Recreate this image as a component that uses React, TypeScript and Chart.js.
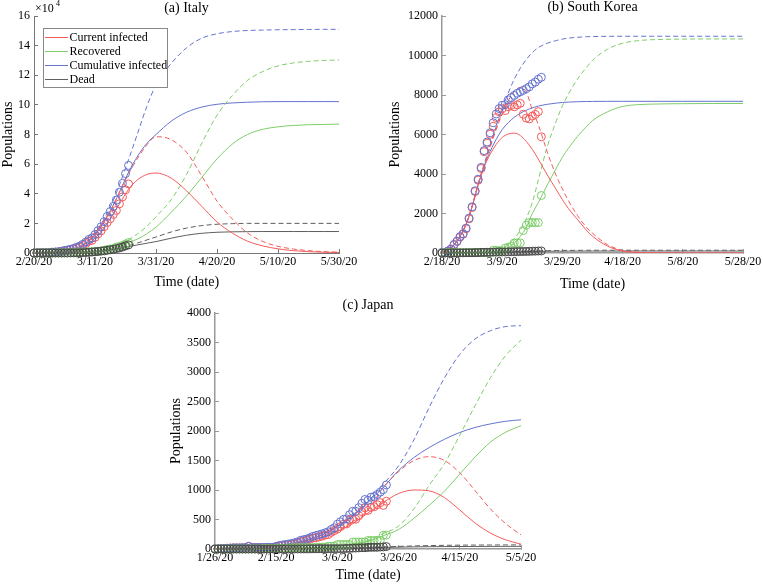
import { useEffect, useRef } from 'react';
import { Chart, registerables } from 'chart.js';

Chart.register(...registerables);

const FONT = '"Liberation Serif", "Times New Roman", serif';
const RED = 'rgb(245,90,90)';
const GREEN = 'rgb(125,205,105)';
const BLUE = 'rgb(100,115,205)';
const GRAY = 'rgb(95,95,95)';
const DOTGRAY = 'rgb(70,70,70)';

// ---------- (a) Italy : day 0 = 2/20/20 ----------
const itTickLabels = ['2/20/20', '3/11/20', '3/31/20', '4/20/20', '5/10/20', '5/30/20'];
const itCumData = [3, 20, 79, 157, 229, 323, 470, 655, 889, 1128, 1694, 2036, 2502, 3089, 3858, 4636, 5883, 7375, 9172, 10149, 12462, 15113, 17660, 21157, 24747, 27980, 31506, 35713, 41035, 47021, 53578, 59138];
const itCurData = [3, 19, 77, 153, 221, 312, 455, 593, 822, 1053, 1577, 1835, 2263, 2706, 3296, 3916, 5061, 6387, 7985, 8514, 10590, 12839, 14955, 17750, 20603, 23073, 26062, 28710, 33190, 37860, 42681, 46638];
const itRecData = [0, 0, 0, 1, 1, 1, 3, 45, 46, 46, 83, 149, 160, 276, 414, 523, 589, 622, 724, 1004, 1045, 1258, 1439, 1966, 2335, 2749, 2941, 4025, 4440, 5129, 6072, 7024];
const itDeadData = [0, 1, 2, 3, 7, 10, 12, 17, 21, 29, 34, 52, 79, 107, 148, 197, 233, 366, 463, 631, 827, 1016, 1266, 1441, 1809, 2158, 2503, 2978, 3405, 4032, 4825, 5476];
const itModelDays = [0, 5, 10, 15, 20, 25, 28, 31, 34, 37, 40, 45, 50, 55, 60, 65, 70, 75, 80, 85, 90, 95, 100];
const itCurS = [0, 100, 700, 3000, 10000, 23000, 33000, 43000, 49500, 53000, 54000, 50500, 42000, 31500, 21000, 13500, 8000, 4800, 2800, 1600, 900, 500, 300];
const itRecS = [0, 0, 100, 400, 1200, 3000, 4500, 7000, 9500, 13000, 17500, 27500, 38500, 51000, 63500, 73500, 80000, 83500, 85200, 86100, 86600, 86800, 87000];
const itCumS = [0, 200, 1000, 3800, 12500, 28500, 41000, 54500, 65500, 74000, 80000, 89000, 95000, 98500, 100400, 101300, 101800, 102100, 102200, 102200, 102200, 102200, 102200];
const itDeadS = [0, 0, 100, 300, 1000, 2000, 3000, 4200, 5500, 6600, 7700, 10000, 12000, 13300, 14000, 14300, 14400, 14500, 14500, 14500, 14500, 14500, 14500];
const itCurD = [0, 200, 900, 3800, 12000, 28000, 41000, 53500, 64000, 73000, 78500, 76500, 68000, 52000, 35000, 23000, 13500, 7800, 4500, 2700, 1600, 900, 600];
const itRecD = [0, 0, 100, 500, 1500, 3800, 6000, 9000, 13000, 18000, 24500, 36000, 53000, 74000, 93000, 106200, 116500, 122500, 126300, 128300, 129400, 130000, 130300];
const itCumD = [0, 200, 1000, 4200, 13500, 31000, 46000, 63000, 81000, 99000, 113500, 128000, 138500, 145000, 148000, 149500, 150200, 150500, 150700, 150800, 150900, 151000, 151000];
const itDeadD = [0, 0, 100, 300, 1000, 2200, 3300, 5000, 6800, 8800, 10800, 14200, 16800, 18500, 19400, 19800, 20000, 20000, 20000, 20000, 20000, 20000, 20000];

// ---------- (b) South Korea : day 0 = 2/18/20 ----------
const krTickLabels = ['2/18/20', '3/9/20', '3/29/20', '4/18/20', '5/8/20', '5/28/20'];
const krCumData = [31, 31, 104, 204, 433, 602, 833, 977, 1261, 1766, 2337, 3150, 3736, 4335, 5186, 5621, 6088, 6593, 7041, 7314, 7478, 7513, 7755, 7869, 7979, 8086, 8162, 8236, 8320, 8413, 8565, 8652, 8799, 8897];
const krCurData = [19, 19, 87, 186, 415, 580, 807, 949, 1227, 1731, 2302, 3112, 3689, 4277, 5128, 5556, 6012, 6416, 6862, 7146, 7307, 7212, 7407, 7470, 7403, 7504, 7577, 7024, 6832, 6789, 6934, 7018, 7157, 5884];
const krRecData = [12, 12, 16, 16, 16, 16, 18, 18, 22, 22, 22, 22, 30, 30, 30, 30, 41, 135, 135, 118, 118, 247, 288, 333, 510, 510, 510, 1137, 1407, 1540, 1540, 1540, 1540, 2909];
const krDeadData = [0, 0, 1, 2, 2, 6, 8, 10, 12, 13, 13, 16, 17, 28, 28, 35, 35, 42, 44, 50, 53, 54, 60, 66, 66, 72, 75, 75, 81, 84, 91, 94, 102, 104];
const krModelDays = [0, 2, 4, 6, 8, 10, 12, 14, 16, 18, 20, 22, 24, 26, 28, 30, 32, 35, 38, 40, 42, 45, 48, 50, 55, 60, 65, 70, 80, 90, 100];
const krCumS = [30, 150, 420, 850, 1450, 2350, 3450, 4400, 5150, 5750, 6250, 6600, 6870, 7070, 7230, 7350, 7440, 7530, 7590, 7620, 7640, 7660, 7670, 7675, 7680, 7680, 7680, 7680, 7680, 7680, 7680];
const krCurS = [30, 150, 420, 850, 1450, 2330, 3420, 4350, 5000, 5500, 5850, 6020, 6070, 5950, 5650, 5250, 4750, 3950, 3200, 2700, 2250, 1700, 1150, 850, 350, 100, 25, 5, 0, 0, 0];
const krRecS = [0, 0, 0, 0, 0, 0, 5, 10, 25, 60, 130, 270, 500, 840, 1300, 2000, 2550, 3450, 4300, 4850, 5300, 5900, 6400, 6700, 7150, 7420, 7510, 7540, 7560, 7570, 7570];
const krDeadS = [0, 0, 1, 3, 5, 8, 12, 18, 25, 33, 42, 50, 58, 65, 72, 78, 83, 88, 92, 94, 95, 96, 97, 98, 99, 100, 100, 100, 100, 100, 100];
const krCumD = [30, 150, 420, 850, 1460, 2380, 3500, 4500, 5450, 6400, 7300, 8100, 8800, 9350, 9800, 10150, 10400, 10620, 10760, 10830, 10880, 10920, 10950, 10960, 10970, 10975, 10975, 10975, 10975, 10975, 10975];
const krCurD = [30, 150, 420, 850, 1460, 2370, 3480, 4450, 5350, 6250, 7050, 7700, 8200, 8380, 8150, 7250, 6500, 5100, 3900, 3250, 2650, 1900, 1300, 1000, 420, 130, 35, 8, 0, 0, 0];
const krRecD = [0, 0, 0, 0, 0, 0, 5, 15, 40, 100, 220, 420, 720, 1150, 1750, 2550, 3700, 5400, 6700, 7450, 8050, 8800, 9400, 9750, 10320, 10620, 10750, 10800, 10830, 10840, 10840];
const krDeadD = [0, 0, 1, 3, 6, 10, 15, 22, 30, 40, 50, 62, 72, 82, 92, 100, 108, 117, 125, 130, 133, 136, 138, 139, 140, 140, 140, 140, 140, 140, 140];

// ---------- (c) Japan : day 0 = 1/26/20 ----------
const jpTickLabels = ['1/26/20', '2/15/20', '3/6/20', '3/26/20', '4/15/20', '5/5/20'];
const jpCumData = [4, 4, 7, 7, 11, 15, 20, 20, 20, 22, 22, 45, 25, 25, 26, 26, 26, 28, 28, 29, 43, 59, 66, 74, 84, 94, 105, 122, 147, 159, 170, 189, 214, 228, 241, 256, 274, 293, 331, 360, 420, 461, 502, 511, 581, 639, 639, 701, 773, 839, 825, 878, 889, 924, 963, 1007, 1086];
const jpCurData = [3, 3, 6, 6, 10, 14, 19, 19, 19, 21, 21, 44, 24, 24, 25, 22, 17, 19, 18, 19, 30, 46, 53, 60, 65, 75, 82, 99, 124, 136, 147, 165, 188, 192, 204, 218, 236, 244, 282, 311, 338, 379, 420, 425, 495, 506, 505, 564, 633, 699, 654, 705, 716, 751, 786, 740, 810];
const jpRecData = [1, 1, 1, 1, 1, 1, 1, 1, 1, 1, 1, 1, 1, 1, 1, 4, 9, 9, 9, 9, 12, 12, 12, 13, 18, 18, 22, 22, 22, 22, 22, 22, 22, 32, 32, 32, 32, 43, 43, 43, 76, 76, 76, 76, 76, 118, 118, 118, 118, 118, 144, 144, 144, 144, 144, 232, 235];
const jpDeadData = [0, 0, 0, 0, 0, 0, 0, 0, 0, 0, 0, 0, 0, 0, 0, 0, 0, 0, 1, 1, 1, 1, 1, 1, 1, 1, 1, 1, 1, 1, 1, 2, 4, 4, 5, 6, 6, 6, 6, 6, 6, 6, 6, 10, 10, 15, 16, 19, 22, 22, 27, 29, 29, 29, 33, 35, 41];
const jpModelDays = [0, 5, 10, 15, 20, 25, 30, 35, 40, 45, 50, 55, 60, 65, 70, 75, 80, 85, 90, 95, 100];
const jpCumS = [5, 12, 20, 35, 55, 90, 150, 240, 380, 560, 790, 1045, 1330, 1550, 1720, 1860, 1975, 2060, 2120, 2165, 2190];
const jpCurS = [4, 10, 17, 30, 48, 78, 128, 200, 300, 430, 610, 790, 940, 1000, 985, 870, 660, 440, 270, 155, 82];
const jpRecS = [1, 2, 3, 4, 6, 10, 18, 30, 48, 80, 130, 225, 330, 520, 740, 980, 1270, 1560, 1810, 1980, 2090];
const jpDeadS = [0, 0, 0, 0, 1, 2, 4, 6, 10, 14, 20, 27, 32, 36, 39, 41, 42, 43, 44, 45, 45];
const jpCumD = [5, 12, 20, 35, 55, 90, 150, 245, 390, 580, 810, 1100, 1410, 1850, 2400, 2900, 3300, 3560, 3700, 3770, 3785];
const jpCurD = [4, 10, 17, 30, 48, 80, 130, 205, 310, 460, 660, 1045, 1310, 1500, 1565, 1500, 1290, 990, 680, 430, 240];
const jpRecD = [1, 2, 3, 4, 6, 10, 18, 32, 52, 88, 145, 260, 390, 680, 1080, 1450, 1930, 2430, 2900, 3280, 3540];
const jpDeadD = [0, 0, 0, 0, 1, 2, 4, 6, 10, 16, 24, 35, 44, 52, 58, 62, 65, 67, 68, 69, 70];

const LEGEND = ['Current infected', 'Recovered', 'Cumulative infected', 'Dead'];
const LEGEND_COLORS = [RED, GREEN, BLUE, GRAY];

type Panel = {
  title: string;
  labels: string[];
  days: number[];
  cur: [number[], number[]];
  rec: [number[], number[]];
  cum: [number[], number[]];
  dead: [number[], number[]];
  data: { cur: number[]; rec: number[]; cum: number[]; dead: number[] };
  yMax: number;
  yStep: number;
  yFmt: (v: number) => string;
  w: number; h: number;
  pad: { left: number; top: number; right: number; bottom: number };
  yW: number; xH: number;
  titleDy: number; xTitleDy: number; yTitleDx: number;
  axisColor: string; axisWidth: number;
  legend?: boolean; exponent?: boolean;
};

const lineDs = (days: number[], vals: number[], color: string, dashed: boolean) => ({
  type: 'line' as const,
  data: days.map((d, i) => ({ x: d, y: vals[i] })),
  borderColor: color,
  backgroundColor: color,
  borderWidth: 1,
  borderDash: dashed ? [5, 3] : [],
  pointRadius: 0,
  cubicInterpolationMode: 'monotone' as const,
  fill: false,
  order: 10,
});

const dotDs = (vals: number[], color: string, order: number) => ({
  type: 'line' as const,
  showLine: false,
  data: vals.map((v, i) => ({ x: i, y: v })),
  borderColor: color,
  backgroundColor: 'rgba(0,0,0,0)',
  pointRadius: 4,
  pointBorderWidth: 1,
  pointBorderColor: color,
  pointBackgroundColor: 'rgba(0,0,0,0)',
  clip: false as any,
  order,
});

function makeChart(canvas: HTMLCanvasElement, p: Panel) {
  const textPlugin = {
    id: 'texts',
    afterDraw(chart: any) {
      const { ctx, chartArea: a } = chart;
      ctx.save();
      ctx.setLineDash([]);
      ctx.fillStyle = '#000';
      ctx.textAlign = 'center';
      ctx.textBaseline = 'middle';
      ctx.font = `14px ${FONT}`;
      const cx = (a.left + a.right) / 2;
      ctx.fillText(p.title, cx, a.top + p.titleDy);
      ctx.fillText('Time (date)', cx, a.bottom + p.xTitleDy);
      ctx.save();
      ctx.translate(a.left + p.yTitleDx, (a.top + a.bottom) / 2);
      ctx.rotate(-Math.PI / 2);
      ctx.fillText('Populations', 0, 0);
      ctx.restore();
      if (p.exponent) {
        ctx.textAlign = 'left';
        ctx.font = `12px ${FONT}`;
        ctx.fillText('\u00d710', a.left + 1, a.top - 7);
        ctx.font = `8px ${FONT}`;
        ctx.fillText('4', a.left + 22, a.top - 12);
      }
      if (p.legend) {
        const bx = a.left + 9, by = a.top + 12, bw = 124, bh = 59;
        ctx.fillStyle = '#fff';
        ctx.fillRect(bx, by, bw, bh);
        ctx.strokeStyle = '#888';
        ctx.lineWidth = 1;
        ctx.strokeRect(bx + 0.5, by + 0.5, bw, bh);
        ctx.font = `12px ${FONT}`;
        ctx.textAlign = 'left';
        for (let i = 0; i < LEGEND.length; i++) {
          const y = Math.round(by + 8.5 + i * 14);
          ctx.fillStyle = LEGEND_COLORS[i];
          ctx.fillRect(bx + 2, y, 23, 1);
          ctx.fillStyle = '#000';
          ctx.fillText(LEGEND[i], bx + 26.5, y + 0.5);
        }
      }
      ctx.restore();
    },
  };

  const axisCommon = {
    border: { color: p.axisColor, width: p.axisWidth },
    grid: { display: true, drawOnChartArea: false, drawTicks: true, tickLength: -4, color: p.axisColor, tickColor: p.axisColor },
  };

  return new Chart(canvas, {
    type: 'line',
    data: {
      datasets: [
        dotDs(p.data.dead, DOTGRAY, 1),
        dotDs(p.data.rec, GREEN, 2),
        dotDs(p.data.cum, BLUE, 3),
        dotDs(p.data.cur, RED, 4),
        lineDs(p.days, p.cur[0], RED, false),
        lineDs(p.days, p.cur[1], RED, true),
        lineDs(p.days, p.rec[0], GREEN, false),
        lineDs(p.days, p.rec[1], GREEN, true),
        lineDs(p.days, p.cum[0], BLUE, false),
        lineDs(p.days, p.cum[1], BLUE, true),
        lineDs(p.days, p.dead[0], GRAY, false),
        lineDs(p.days, p.dead[1], GRAY, true),
      ] as any,
    },
    options: {
      responsive: false,
      animation: false,
      devicePixelRatio: 1,
      layout: { padding: p.pad },
      plugins: { legend: { display: false }, title: { display: false }, tooltip: { enabled: false } },
      scales: {
        x: {
          type: 'linear',
          min: 0,
          max: 100,
          ...axisCommon,
          ticks: {
            stepSize: 20,
            padding: 6,
            color: '#000',
            font: { family: FONT, size: 12 },
            maxRotation: 0,
            autoSkip: false,
            callback: (v: any) => p.labels[Math.round(Number(v) / 20)] ?? '',
          },
          afterFit: (s: any) => { s.height = p.xH; s.paddingLeft = 0; s.paddingRight = 0; },
        },
        y: {
          type: 'linear',
          min: 0,
          max: p.yMax,
          ...axisCommon,
          ticks: {
            stepSize: p.yStep,
            padding: 8,
            color: '#000',
            font: { family: FONT, size: 12 },
            callback: (v: any) => p.yFmt(Number(v)),
          },
          afterFit: (s: any) => { s.width = p.yW; s.paddingTop = 0; s.paddingBottom = 0; },
        },
      },
    } as any,
    plugins: [textPlugin],
  });
}

const italy: Panel = {
  title: '(a) Italy', labels: itTickLabels, days: itModelDays,
  cur: [itCurS, itCurD], rec: [itRecS, itRecD], cum: [itCumS, itCumD], dead: [itDeadS, itDeadD],
  data: { cur: itCurData, rec: itRecData, cum: itCumData, dead: itDeadData },
  yMax: 160000, yStep: 20000, yFmt: (v) => String(Math.round(v / 10000)),
  w: 381, h: 295, pad: { left: 0, top: 16, right: 42, bottom: 0 }, yW: 34, xH: 42,
  titleDy: -8, xTitleDy: 29.5, yTitleDx: -25.5, axisColor: '#777', axisWidth: 1,
  legend: true, exponent: true,
};

const korea: Panel = {
  title: '(b) South Korea', labels: krTickLabels, days: krModelDays,
  cur: [krCurS, krCurD], rec: [krRecS, krRecD], cum: [krCumS, krCumD], dead: [krDeadS, krDeadD],
  data: { cur: krCurData, rec: krRecData, cum: krCumData, dead: krDeadData },
  yMax: 12000, yStep: 2000, yFmt: (v) => String(v),
  w: 382, h: 295, pad: { left: 0, top: 16, right: 20, bottom: 0 }, yW: 61, xH: 42,
  titleDy: -8.5, xTitleDy: 31, yTitleDx: -47, axisColor: '#999', axisWidth: 1.5,
};

const japan: Panel = {
  title: '(c) Japan', labels: jpTickLabels, days: jpModelDays,
  cur: [jpCurS, jpCurD], rec: [jpRecS, jpRecD], cum: [jpCumS, jpCumD], dead: [jpDeadS, jpDeadD],
  data: { cur: jpCurData, rec: jpRecData, cum: jpCumData, dead: jpDeadData },
  yMax: 4000, yStep: 500, yFmt: (v) => String(v),
  w: 400, h: 294, pad: { left: 0, top: 20, right: 39, bottom: 0 }, yW: 55, xH: 38,
  titleDy: -8, xTitleDy: 26.5, yTitleDx: -39, axisColor: '#999', axisWidth: 1.5,
};

export default function App() {
  const r1 = useRef<HTMLCanvasElement>(null);
  const r2 = useRef<HTMLCanvasElement>(null);
  const r3 = useRef<HTMLCanvasElement>(null);

  useEffect(() => {
    const charts = [
      makeChart(r1.current!, italy),
      makeChart(r2.current!, korea),
      makeChart(r3.current!, japan),
    ];
    return () => charts.forEach((c) => c.destroy());
  }, []);

  return (
    <div style={{ position: 'absolute', left: 0, top: 0, width: 763, height: 587, background: '#fff', overflow: 'hidden' }}>
      <canvas ref={r1} width={italy.w} height={italy.h} style={{ position: 'absolute', left: 0, top: 0, width: italy.w, height: italy.h }} />
      <canvas ref={r2} width={korea.w} height={korea.h} style={{ position: 'absolute', left: 381, top: 0, width: korea.w, height: korea.h }} />
      <canvas ref={r3} width={japan.w} height={japan.h} style={{ position: 'absolute', left: 160, top: 293, width: japan.w, height: japan.h }} />
    </div>
  );
}
